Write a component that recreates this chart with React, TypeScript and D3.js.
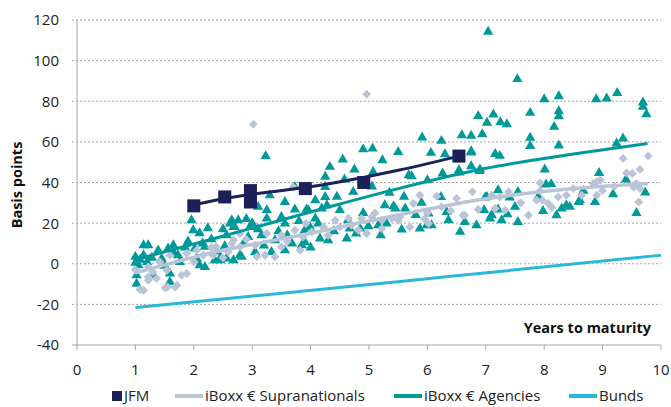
import React from 'react';
import * as d3 from 'd3';

// Agencies spreads (years, bp)
const agencies: [number, number][] = [
  [1.0, 3.4], [1.02, -5.7], [1.02, -9.8], [1.05, -0.7], [1.14, 4.2], [1.14, 9.1], [1.2, 0.9], [1.22, 9.1],
  [1.31, -5.7], [1.39, 6.6], [1.56, 7.5], [1.59, -4.8], [1.59, -9], [1.65, 9.1], [1.73, 4.2], [1.76, 0.9],
  [1.0, 0.5], [1.08, 2], [1.28, 3], [1.45, 2.5], [1.5, -1], [1.66, 5.5], [1.85, 8], [1.9, 11],
  [1.96, 21.4], [1.99, 16.5], [2.24, 17.5], [2.1, 15], [2.05, 2.6], [2.1, -0.7], [2.19, -1.6], [2.36, 1.7],
  [2.19, 8.3], [2.02, 7.5], [2.45, 2.6], [2.56, 2.6], [2.62, 19.8], [2.68, 18.1], [2.76, 21.4], [2.68, 1.7],
  [2.79, 4.2], [2.65, 21.4], [2.7, 18.1], [2.96, 18.1], [2.56, 14], [2.93, 13.2], [2.53, 8.6], [2.82, 3.4],
  [2.45, 1.7], [2.3, 12], [2.15, 10], [2.4, 6], [2.85, 10], [2.9, 22], [2.5, 17],
  [3.23, 53], [3.3, 33.7], [3.73, 37.8], [3.56, 30.4], [3.73, 26.7], [3.93, 26.7], [3.1, 28], [3.25, 26.4],
  [3.25, 22.3], [3.5, 23], [3.56, 19.8], [3.16, 14], [3.39, 11.6], [3.68, 10], [3.85, 9.1], [3.05, 5.8],
  [3.33, 5.8], [3.56, 6.6], [3.9, 10.7], [3.9, 16.5], [3.0, 20], [3.1, 17], [3.45, 16], [3.8, 21], [3.2, 9], [3.6, 14],
  [4.9, 56.3], [5.06, 56.7], [4.55, 51.3], [4.33, 47.7], [4.75, 46.4], [4.25, 42.8], [4.58, 41.5], [4.25, 37.8],
  [4.73, 35.4], [4.08, 31.3], [4.25, 32.9], [4.28, 28.8], [3.96, 26.4], [4.19, 27.2], [4.5, 26.4], [4.64, 21.4],
  [4.08, 22.3], [4.13, 19.8], [3.99, 18.1], [4.67, 17.3], [4.85, 17.3], [4.99, 18.5], [4.16, 12.4], [4.3, 11.6],
  [4.62, 12.4], [4.78, 14.9], [4.4, 16], [4.9, 25], [4.45, 33], [4.0, 8],
  [5.07, 45.2], [5.23, 51], [5.5, 55], [5.27, 28.8], [5.42, 28.3], [5.16, 19], [5.3, 19.8], [5.68, 43.6],
  [5.73, 43.1], [5.91, 62.2], [6.0, 41.1], [5.45, 27.2], [5.62, 27.2], [5.56, 16.8], [5.87, 17.3], [5.99, 19],
  [5.2, 14], [5.35, 35], [5.8, 24], [5.05, 38], [5.6, 33], [5.9, 30],
  [6.06, 54.6], [6.24, 60.5], [6.3, 53.9], [6.59, 63.3], [6.75, 63], [6.94, 63.8], [6.87, 72.7], [7.02, 69.4],
  [6.54, 46], [6.75, 48], [6.9, 46.4], [6.75, 55.4], [6.23, 32.9], [6.99, 32.6], [6.02, 24.7], [6.07, 19],
  [6.36, 21.4], [6.33, 25.5], [6.64, 20.6], [6.97, 26.4], [6.84, 19], [6.56, 15.7], [6.26, 44.4], [6.55, 44.9],
  [6.89, 45.7], [6.75, 54.8],
  [7.04, 114.2], [7.54, 90.9], [7.13, 73.5], [7.25, 69.7], [7.36, 68.7], [7.16, 54], [7.24, 53.1], [7.76, 74.3],
  [7.76, 62], [7.76, 58], [7.21, 36.2], [7.55, 35.4], [7.02, 32.9], [7.41, 32.6], [7.21, 26.7], [7.37, 24.4],
  [7.1, 23.9], [7.07, 22.3], [7.27, 21.4], [7.55, 20.6], [7.98, 26], [7.5, 28], [7.9, 33],
  [8.0, 81], [8.25, 82.5], [8.89, 81], [8.25, 75.1], [8.25, 72.6], [8.17, 67.4], [8.25, 58.2], [8.01, 46.4],
  [8.03, 39], [8.12, 39.2], [8.21, 23.9], [8.3, 27.2], [8.38, 28.8], [8.44, 28], [8.59, 30.4], [8.61, 31.3],
  [8.87, 30.4], [8.67, 35.9], [8.94, 44.7],
  [9.07, 81.4], [9.25, 84.1], [9.69, 79.4], [9.69, 77.3], [9.75, 73.6], [9.35, 61.7], [9.24, 59.2], [9.4, 41.5],
  [9.18, 34.2], [9.73, 35.1], [9.58, 25],
];

// Supranationals spreads (years, bp)
const supras: [number, number][] = [
  [1.08, -12.7], [1.14, -13], [1.22, -8.1], [1.36, -7.3], [1.51, -11.9], [1.71, -10.6], [1.79, -5.7], [1.88, -4.8],
  [1.54, -3.2], [1.22, -1.6], [1.88, 5], [2.05, 6.6], [2.33, 4.2], [2.38, 8.3], [2.68, 11.6], [2.79, 14.9],
  [2.16, 4.2], [1.42, 0.9], [1.59, 4.2], [1.55, -11.4], [1.22, -6.5], [1.68, -11.4], [1.0, -3], [1.3, -4], [2.0, 1], [2.5, 3],
  [3.02, 68.7], [3.7, 37.8], [3.25, 14.9], [3.5, 14], [3.73, 16.5], [3.87, 13.2], [2.65, 10], [2.79, 8.3],
  [3.05, 9.1], [3.22, 4.2], [3.08, 3.4], [3.5, 8.3], [3.39, 3.4], [2.59, 5.8], [3.82, 6.6], [2.3, 8], [2.9, 12], [3.6, 11],
  [4.96, 83.5], [4.65, 22.3], [4.87, 22.3], [5.05, 23], [5.22, 21.4], [5.39, 22.3], [5.5, 21.4], [4.42, 21.4],
  [3.92, 19.8], [4.02, 15.7], [4.22, 18.1], [4.82, 16.5], [4.96, 14.9], [4.5, 18.1], [5.22, 17.3], [4.3, 14], [4.7, 19], [5.1, 25],
  [5.87, 33.7], [5.76, 29.7], [6.16, 33.2], [6.5, 32.1], [6.77, 35.4], [6.87, 26.7], [6.61, 23.9], [6.24, 28],
  [5.53, 23], [5.7, 18.1], [6.02, 19.8], [6.64, 23.9], [6.0, 25], [6.4, 26], [5.95, 22],
  [7.1, 33.7], [7.24, 32.9], [7.39, 35.4], [7.87, 31.3], [7.97, 31.3], [7.93, 35.9], [8.07, 29.7], [8.13, 27.7],
  [8.24, 32.9], [8.38, 33.7], [7.73, 23.9], [7.16, 27.2], [7.33, 26.4], [8.5, 37], [7.93, 39.8], [7.6, 30],
  [8.96, 41.1], [8.9, 40.3], [8.84, 39.5], [8.64, 33.7], [8.9, 33.7], [9.35, 51.8], [9.78, 53], [9.41, 44.7],
  [9.51, 44.4], [9.64, 46.4], [9.58, 39.5], [9.53, 37.8], [9.64, 37], [9.62, 30.4], [9.2, 38], [9.0, 36],
];

// JFM bonds
const jfm: [number, number][] = [
  [2.0, 28.5], [2.53, 32.9], [2.97, 30.4], [2.97, 36], [3.91, 37], [4.91, 40], [6.54, 53],
];

// fitted curves
const jfmTrend: [number, number][] = [[2.0, 29], [2.6, 32.5], [3.2, 35], [3.9, 37.5], [4.9, 42.5], [5.5, 46], [6.54, 53]];
const agenciesTrend: [number, number][] = [[1, 2], [2.4, 12.8], [4, 25.5], [5.5, 37], [7, 47], [8.5, 54], [9.77, 59.2]];
const suprasTrend: [number, number][] = [[1, -4.5], [2.4, 6], [4, 15], [5.5, 24], [7, 32], [8.5, 37], [9.78, 39.5]];
const bundsTrend: [number, number][] = [[1, -21.5], [2.62, -17], [6.4, -6.2], [10, 4.2]];

const xTicks = [0, 1, 2, 3, 4, 5, 6, 7, 8, 9, 10];
const yTicks = [-40, -20, 0, 20, 40, 60, 80, 100, 120];

const C_AG = '#00999A';
const C_SU = '#B9C5D6';
const C_JFM = '#1C2158';
const C_BUND = '#2BB6DC';
const C_GRID = '#A6A6A6';
const FONT = '"Open Sans", sans-serif';

export default function App() {
  const x = d3.scaleLinear().domain([0, 10]).range([77, 661]);
  const y = d3.scaleLinear().domain([-40, 120]).range([345, 20]);
  const line = d3.line<[number, number]>().x(d => x(d[0])).y(d => y(d[1])).curve(d3.curveMonotoneX);
  const tri = d3.symbol(d3.symbolTriangle, 46)()!;
  const dia = d3.symbol(d3.symbolSquare, 40)()!;
  const sq = d3.symbol(d3.symbolSquare, 170)()!;

  const legend = [
    { label: 'JFM', kind: 'sq', color: C_JFM, x: 112 },
    { label: 'iBoxx € Supranationals', kind: 'line', color: C_SU, x: 175 },
    { label: 'iBoxx € Agencies', kind: 'line', color: C_AG, x: 394 },
    { label: 'Bunds', kind: 'line', color: C_BUND, x: 569 },
  ];

  return (
    <svg width={671} height={407} style={{ position: 'absolute', left: 0, top: 0, background: '#fff' }} fontFamily={FONT}>
      {/* grid */}
      {yTicks.filter(t => t > -40).map(t => (
        <line key={t} x1={72} x2={x(10)} y1={y(t)} y2={y(t)} stroke={C_GRID} strokeWidth={1} strokeDasharray="2,2" />
      ))}
      <line x1={72} x2={77} y1={y(-40)} y2={y(-40)} stroke={C_GRID} />
      <line x1={x(0)} x2={x(0)} y1={y(120)} y2={y(-40)} stroke={C_GRID} />
      <line x1={x(0)} x2={x(10)} y1={y(-40)} y2={y(-40)} stroke={C_GRID} />
      {xTicks.map(t => (
        <line key={t} x1={x(t)} x2={x(t)} y1={y(-40)} y2={y(-40) + 5} stroke={C_GRID} />
      ))}
      {yTicks.map(t => (
        <text key={t} x={59} y={y(t)} dy="0.36em" textAnchor="end" fontSize={15} fill="#222">{t}</text>
      ))}
      {xTicks.map(t => (
        <text key={t} x={x(t)} y={370} dy="0.36em" textAnchor="middle" fontSize={15} fill="#222">{t}</text>
      ))}
      <text transform={`translate(22,${185}) rotate(-90)`} textAnchor="middle" fontSize={14.5} fontWeight="bold" fill="#111">Basis points</text>
      <text x={651} y={333} textAnchor="end" fontSize={14.5} fontWeight="bold" fill="#111">Years to maturity</text>

      {/* markers */}
      {agencies.map((d, i) => (
        <path key={'a' + i} d={tri} transform={`translate(${x(d[0])},${y(d[1])})`} fill={C_AG} />
      ))}
      {supras.map((d, i) => (
        <path key={'s' + i} d={dia} transform={`translate(${x(d[0])},${y(d[1])}) rotate(45)`} fill={C_SU} />
      ))}

      {/* trend lines */}
      <path d={line(agenciesTrend)!} fill="none" stroke={C_AG} strokeWidth={3} />
      <path d={line(suprasTrend)!} fill="none" stroke={C_SU} strokeWidth={3.5} />
      <path d={line(bundsTrend)!} fill="none" stroke={C_BUND} strokeWidth={3} />
      <path d={line(jfmTrend)!} fill="none" stroke={C_JFM} strokeWidth={3} />
      {jfm.map((d, i) => (
        <path key={'j' + i} d={sq} transform={`translate(${x(d[0])},${y(d[1])})`} fill={C_JFM} />
      ))}

      {/* legend */}
      {legend.map(l => (
        <g key={l.label}>
          {l.kind === 'sq'
            ? <rect x={l.x} y={391} width={10} height={10} fill={l.color} />
            : <line x1={l.x} x2={l.x + 28} y1={396} y2={396} stroke={l.color} strokeWidth={4} />}
          <text x={l.kind === 'sq' ? l.x + 12 : l.x + 30} y={396} dy="0.36em" fontSize={15} fill="#222">{l.label}</text>
        </g>
      ))}
    </svg>
  );
}
